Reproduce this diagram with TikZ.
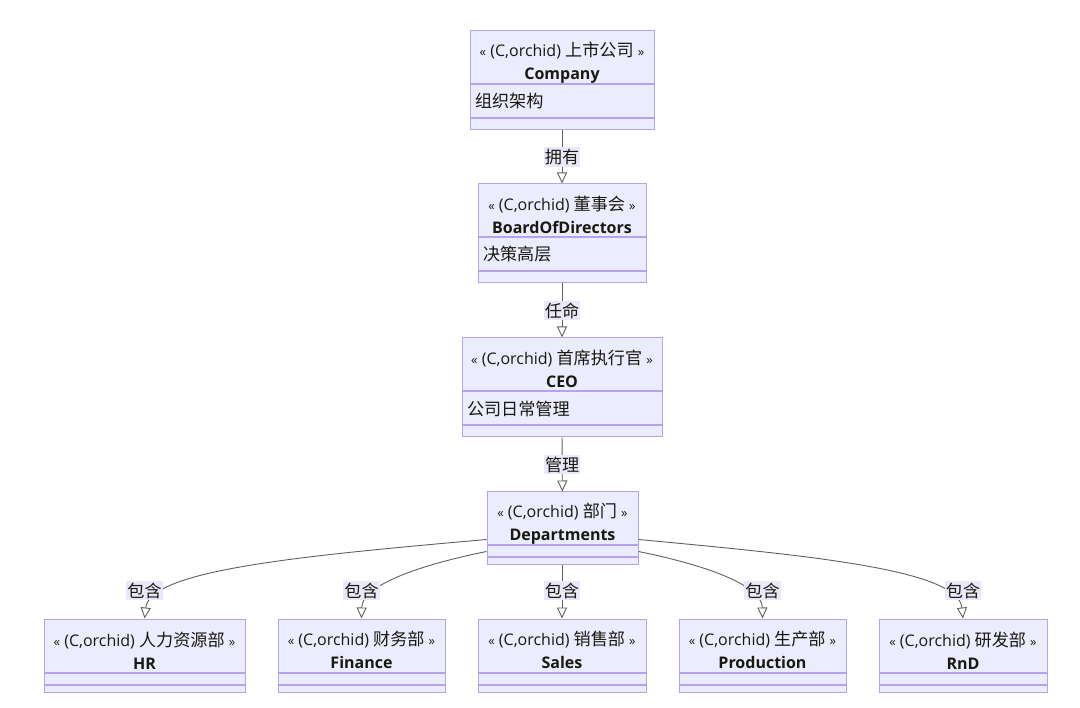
\documentclass[tikz,border=0pt]{standalone}
\usepackage{fontspec}
\setmainfont{Open Sans}
\newfontfamily\cjk[Scale=1.07]{Noto Sans CJK SC}
\usetikzlibrary{arrows.meta, positioning}
\usepackage{xcolor}
\definecolor{cfill}{RGB}{236,236,255}
\definecolor{cborder}{RGB}{182,163,236}
\definecolor{edgegray}{RGB}{95,95,95}
\definecolor{lblfill}{RGB}{232,232,250}
\definecolor{ctext}{RGB}{25,25,15}
\newcommand{\stereo}[1]{\rule{0pt}{24pt}{\fontsize{13}{13}\selectfont«}~(C,orchid)~{\cjk #1}~{\fontsize{13}{13}\selectfont»}}

\begin{document}
\begin{tikzpicture}[x=1pt, y=-1pt,
  classhead/.style={draw=cborder, fill=cfill, line width=1pt, minimum height=53pt,
                    inner sep=0pt, align=center, text=ctext,
                    font=\fontsize{16}{23}\selectfont},
  attrbox/.style={draw=cborder, fill=cfill, line width=1pt, minimum height=33pt,
                  inner xsep=5pt, inner ysep=0pt, align=left, text=ctext,
                  font=\fontsize{16}{18}\selectfont\cjk},
  emptybox/.style={draw=cborder, fill=cfill, line width=1pt, inner sep=0pt,
                   minimum height=#1},
  edge/.style={draw=edgegray, line width=0.9pt, -{Triangle[open, length=11pt, width=10pt]}},
  elabel/.style={fill=lblfill, inner xsep=1pt, inner ysep=2pt, text=ctext,
                 font=\fontsize{16}{18}\selectfont\cjk}
]
\useasboundingbox (0,0) rectangle (1080,708);

% top of the chain
\node[classhead, minimum width=184pt] (company) at (562,57.5) {\stereo{上市公司}\\\textbf{Company}};
\node[attrbox, text width=174pt, below=0pt of company] (companyattr) {组织架构};
\node[emptybox=11pt, minimum width=184pt, below=0pt of companyattr] (companyops) {};

\node[classhead, minimum width=168pt] (board) at (562,210.5) {\stereo{董事会}\\\textbf{BoardOfDirectors}};
\node[attrbox, text width=158pt, below=0pt of board] (boardattr) {决策高层};
\node[emptybox=11pt, minimum width=168pt, below=0pt of boardattr] (boardops) {};

\node[classhead, minimum width=200pt] (ceo) at (562,364.5) {\stereo{首席执行官}\\\textbf{CEO}};
\node[attrbox, text width=190pt, below=0pt of ceo] (ceoattr) {公司日常管理};
\node[emptybox=11pt, minimum width=200pt, below=0pt of ceoattr] (ceoops) {};

\node[classhead, minimum width=151pt] (dept) at (562.5,518.5) {\stereo{部门}\\\textbf{Departments}};
\node[emptybox=11pt, minimum width=151pt, below=0pt of dept] (deptattr) {};
\node[emptybox=7pt, minimum width=151pt, below=0pt of deptattr] (deptops) {};

% departments row
\node[classhead, minimum width=201pt] (hr) at (144.5,645.5) {\stereo{人力资源部}\\\textbf{HR}};
\node[emptybox=11pt, minimum width=201pt, below=0pt of hr] (hrattr) {};
\node[emptybox=7pt, minimum width=201pt, below=0pt of hrattr] (hrops) {};

\node[classhead, minimum width=167pt] (finance) at (361.5,645.5) {\stereo{财务部}\\\textbf{Finance}};
\node[emptybox=11pt, minimum width=167pt, below=0pt of finance] (financeattr) {};
\node[emptybox=7pt, minimum width=167pt, below=0pt of financeattr] (financeops) {};

\node[classhead, minimum width=168pt] (sales) at (562,645.5) {\stereo{销售部}\\\textbf{Sales}};
\node[emptybox=11pt, minimum width=168pt, below=0pt of sales] (salesattr) {};
\node[emptybox=7pt, minimum width=168pt, below=0pt of salesattr] (salesops) {};

\node[classhead, minimum width=167pt] (production) at (762.5,645.5) {\stereo{生产部}\\\textbf{Production}};
\node[emptybox=11pt, minimum width=167pt, below=0pt of production] (productionattr) {};
\node[emptybox=7pt, minimum width=167pt, below=0pt of productionattr] (productionops) {};

\node[classhead, minimum width=168pt] (rnd) at (963,645.5) {\stereo{研发部}\\\textbf{RnD}};
\node[emptybox=11pt, minimum width=168pt, below=0pt of rnd] (rndattr) {};
\node[emptybox=7pt, minimum width=168pt, below=0pt of rndattr] (rndops) {};

% relations
\draw[edge] (companyops) -- node[elabel]{拥有} (board);
\draw[edge] (boardops) -- node[elabel]{任命} (ceo);
\draw[edge] (ceoops) -- node[elabel]{管理} (dept);

\draw[edge] ([yshift=6pt]dept.south west) .. controls (300,556) and (150,570) .. (hr.north)
  node[elabel, yshift=28pt]{包含};
\draw[edge] (deptattr.west) .. controls (420,565) and (362,585) .. (finance.north)
  node[elabel, yshift=28pt]{包含};
\draw[edge] (deptops.south -| sales.north) -- (sales.north)
  node[elabel, yshift=28pt]{包含};
\draw[edge] (deptattr.east) .. controls (705,565) and (762,585) .. (production.north)
  node[elabel, yshift=28pt]{包含};
\draw[edge] ([yshift=6pt]dept.south east) .. controls (815,556) and (958,570) .. (rnd.north)
  node[elabel, yshift=28pt]{包含};
\end{tikzpicture}
\end{document}
